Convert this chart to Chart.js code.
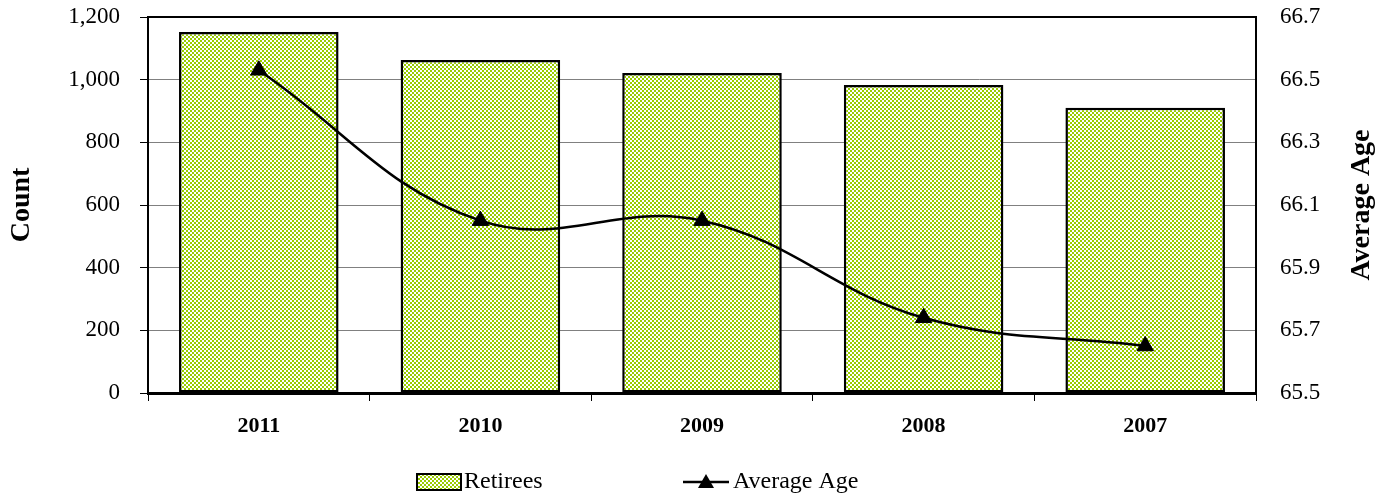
<!DOCTYPE html>
<html>
<head>
<meta charset="utf-8">
<script src="https://cdn.jsdelivr.net/npm/chart.js@4/dist/chart.umd.min.js"></script>
<style>
  html, body { margin: 0; padding: 0; background: #fff; }
  #wrap { width: 1388px; height: 498px; position: relative; }
</style>
</head>
<body>
<div id="wrap"><canvas id="chart"></canvas></div>
<script>
// data
const years = ['2011', '2010', '2009', '2008', '2007'];
const retirees = [1152, 1063, 1021, 983, 910];
const averageAge = [66.53, 66.05, 66.05, 65.74, 65.65];
const countTicks = [0, 200, 400, 600, 800, 1000, 1200];
const ageTicks = [65.5, 65.7, 65.9, 66.1, 66.3, 66.5, 66.7];

const SERIF = '"Liberation Serif", "DejaVu Serif", serif';

// 2px green/white checker fill like the original
function makePattern() {
  const c = document.createElement('canvas');
  c.width = 4; c.height = 4;
  const g = c.getContext('2d');
  g.fillStyle = '#ffffff';
  g.fillRect(0, 0, 4, 4);
  g.fillStyle = '#99cc00';
  g.fillRect(0, 0, 2, 2);
  g.fillRect(2, 2, 2, 2);
  return document.getElementById('chart').getContext('2d').createPattern(c, 'repeat');
}
const barFill = makePattern();

// frame, axis titles and legend drawn by hand
const extras = {
  id: 'extras',
  afterDraw(chart) {
    const ctx = chart.ctx;
    const a = chart.chartArea;
    ctx.save();
    ctx.strokeStyle = '#000';
    ctx.lineWidth = 2;
    ctx.strokeRect(a.left, a.top, a.right - a.left, a.bottom - a.top);
    ctx.restore();

    const midY = (a.top + a.bottom) / 2;
    ctx.save();
    ctx.fillStyle = '#000';
    ctx.font = 'bold 28px ' + SERIF;
    ctx.textAlign = 'center';
    ctx.textBaseline = 'middle';
    ctx.translate(22, midY);
    ctx.rotate(-Math.PI / 2);
    ctx.fillText('Count', 0, 0);
    ctx.restore();

    ctx.save();
    ctx.fillStyle = '#000';
    ctx.font = 'bold 28px ' + SERIF;
    ctx.textAlign = 'center';
    ctx.textBaseline = 'middle';
    ctx.translate(1362, midY);
    ctx.rotate(-Math.PI / 2);
    ctx.fillText('Average Age', 0, 0);
    ctx.restore();

    // legend
    const ly = 482;
    ctx.save();
    ctx.fillStyle = barFill;
    ctx.fillRect(417, ly - 8, 44, 16);
    ctx.strokeStyle = '#000';
    ctx.lineWidth = 2;
    ctx.strokeRect(417, ly - 8, 44, 16);
    ctx.fillStyle = '#000';
    ctx.font = '24px ' + SERIF;
    ctx.textAlign = 'left';
    ctx.textBaseline = 'middle';
    ctx.fillText('Retirees', 464, ly);

    ctx.lineWidth = 2.5;
    ctx.beginPath();
    ctx.moveTo(683, ly);
    ctx.lineTo(729, ly);
    ctx.stroke();
    ctx.beginPath();
    ctx.moveTo(706, ly - 8);
    ctx.lineTo(714, ly + 6);
    ctx.lineTo(698, ly + 6);
    ctx.closePath();
    ctx.fill();
    ctx.fillText('Average Age', 733, ly);
    ctx.restore();
  }
};

// keep tick label overflow from pushing the plot area down
function fixVertical(width) {
  return function(s) {
    s.width = width;
    s.paddingTop = 0;
    s.paddingBottom = 0;
  };
}

new Chart(document.getElementById('chart'), {
  data: {
    labels: years,
    datasets: [
      {
        type: 'line',
        label: 'Average Age',
        data: averageAge,
        yAxisID: 'yAge',
        borderColor: '#000',
        backgroundColor: '#000',
        borderWidth: 2.5,
        tension: 0.4,
        pointStyle: 'triangle',
        pointRadius: 9.5,
        pointBorderWidth: 1,
        order: 0
      },
      {
        type: 'bar',
        label: 'Retirees',
        data: retirees,
        yAxisID: 'yCount',
        backgroundColor: barFill,
        borderColor: '#000',
        borderWidth: 2.5,
        borderSkipped: false,
        barPercentage: 0.72,
        categoryPercentage: 1,
        order: 1
      }
    ]
  },
  options: {
    responsive: true,
    maintainAspectRatio: false,
    animation: false,
    layout: { padding: { top: 17, bottom: 0, left: 0, right: 0 } },
    plugins: {
      legend: { display: false },
      tooltip: { enabled: false }
    },
    scales: {
      x: {
        offset: true,
        grid: { offset: true, drawOnChartArea: false, tickLength: 8, color: '#000', lineWidth: 1 },
        border: { color: '#000', width: 3 },
        ticks: { color: '#000', font: { family: SERIF, size: 22, weight: 'bold' }, padding: 12 },
        afterFit(s) { s.height = 105; s.paddingLeft = 0; s.paddingRight = 0; }
      },
      yCount: {
        position: 'left',
        min: 0,
        max: 1200,
        afterBuildTicks(s) { s.ticks = countTicks.map(v => ({ value: v })); },
        grid: { color: '#808080', lineWidth: 1, tickLength: 8, tickColor: '#000' },
        border: { color: '#000', width: 2 },
        ticks: {
          color: '#000',
          font: { family: SERIF, size: 23 },
          padding: 20,
          callback: v => v.toLocaleString('en-US')
        },
        afterFit: fixVertical(148)
      },
      yAge: {
        position: 'right',
        min: 65.5,
        max: 66.7,
        afterBuildTicks(s) { s.ticks = ageTicks.map(v => ({ value: v })); },
        grid: { drawOnChartArea: false, drawTicks: false },
        border: { color: '#000', width: 2 },
        ticks: {
          color: '#000',
          font: { family: SERIF, size: 23 },
          padding: 24,
          callback: v => v.toFixed(1)
        },
        afterFit: fixVertical(132)
      }
    }
  },
  plugins: [extras]
});
</script>
</body>
</html>
